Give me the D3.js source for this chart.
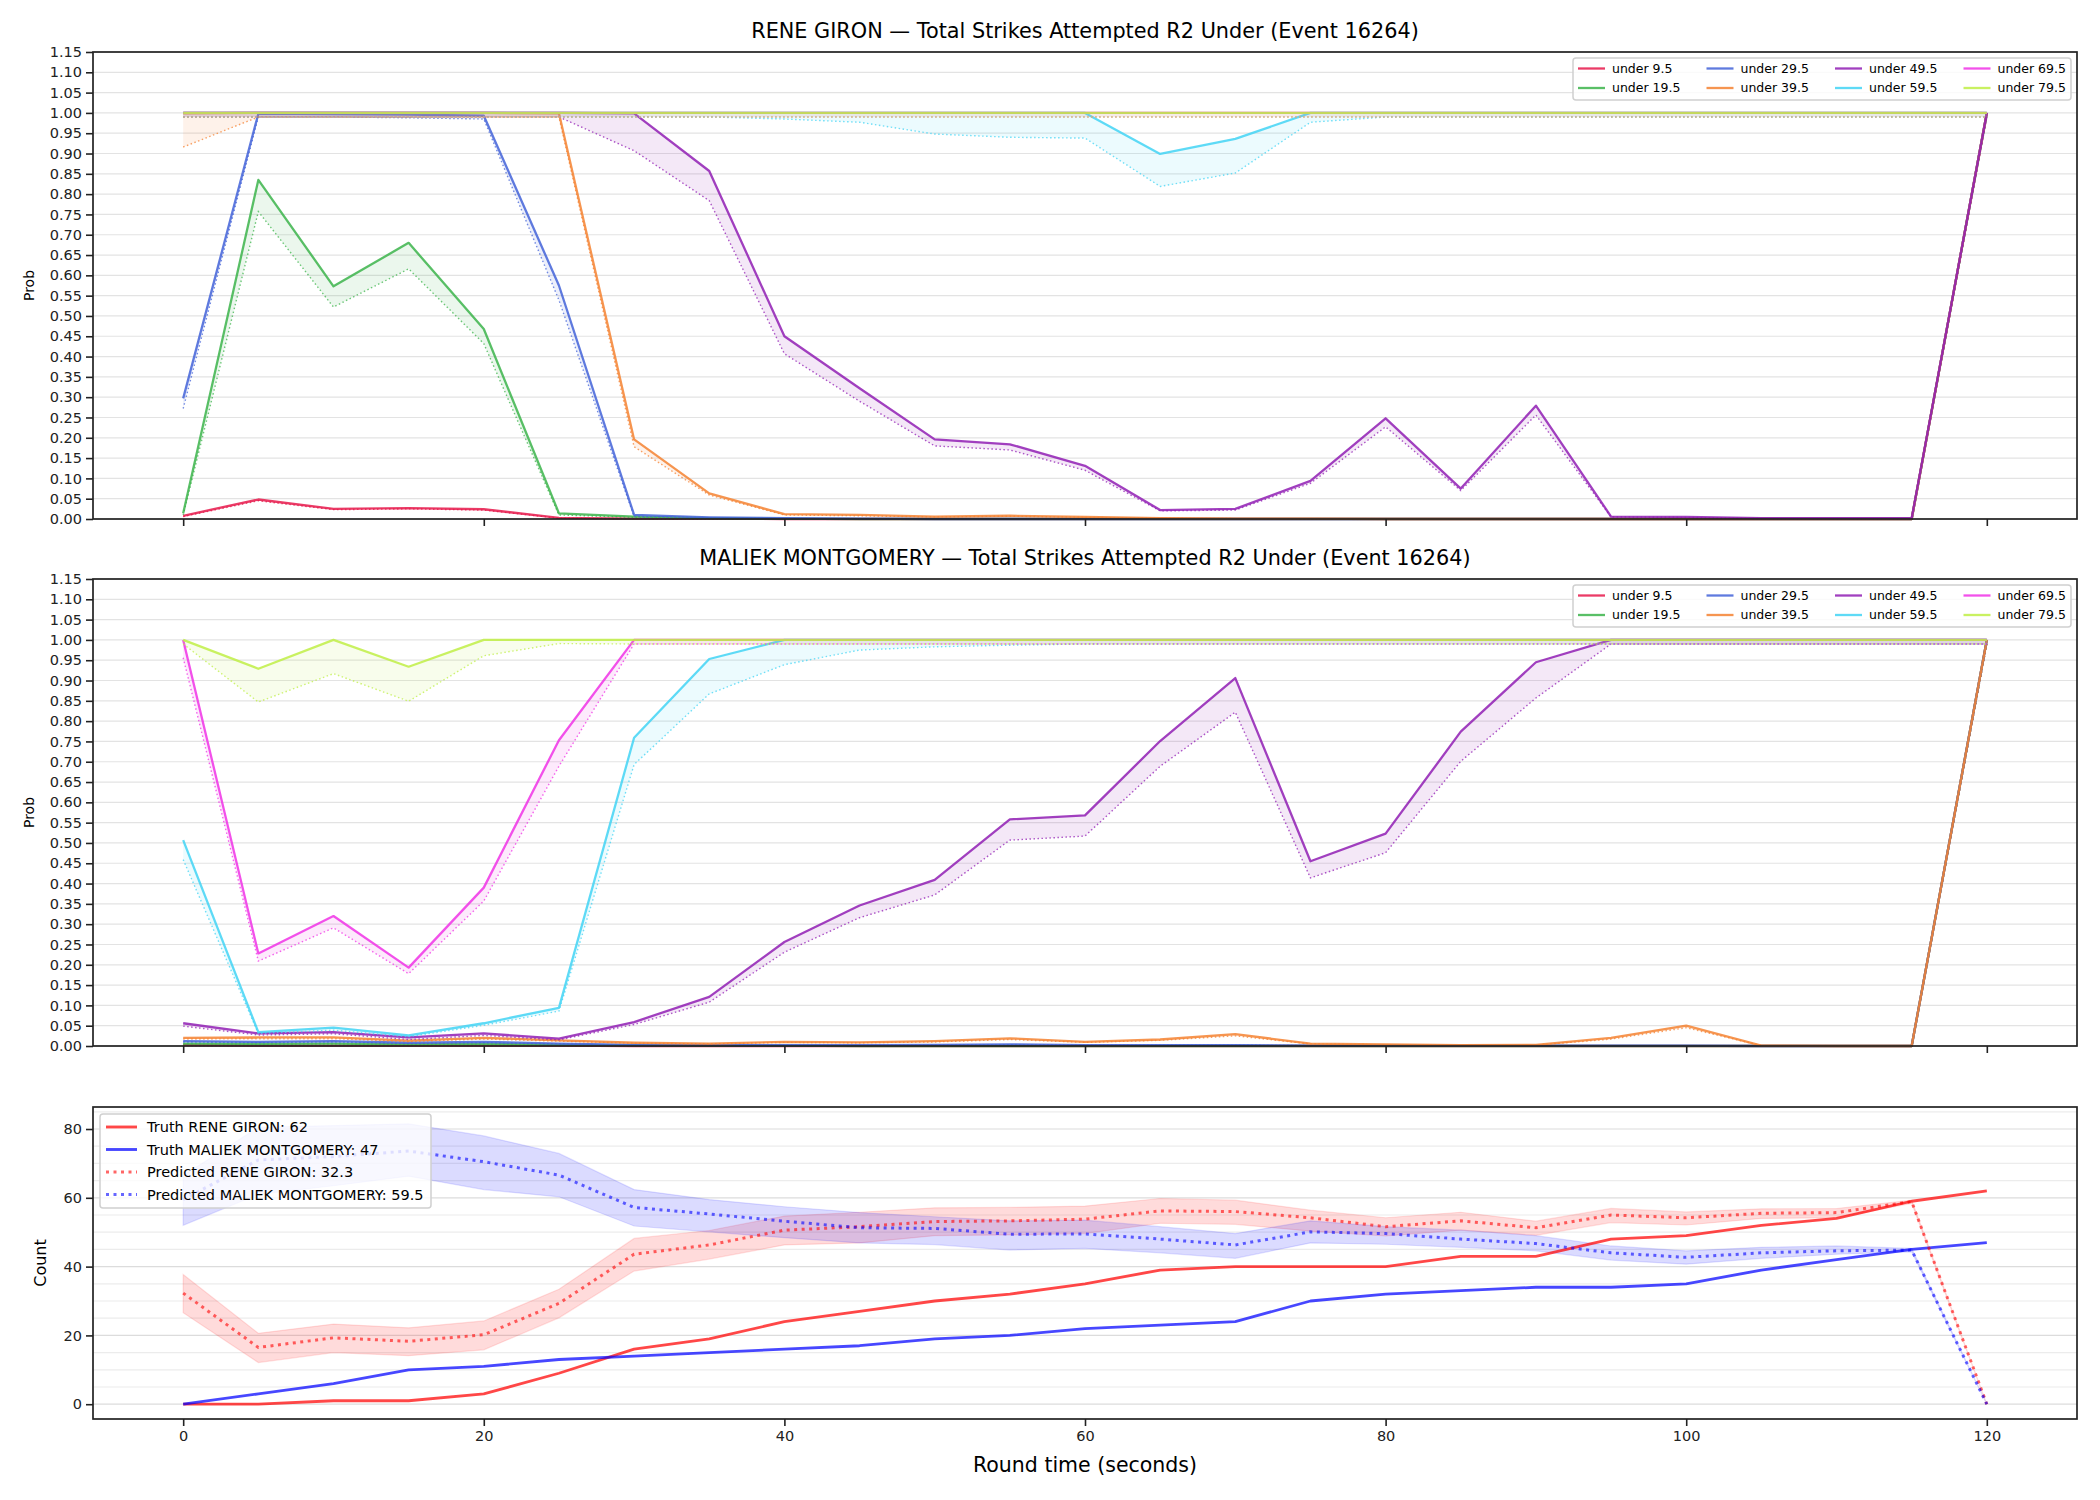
<!DOCTYPE html>
<html>
<head>
<meta charset="utf-8">
<script src="https://cdn.jsdelivr.net/npm/d3@7"></script>
<style>
  body { margin: 0; background: #fff; }
  text { font-family: "DejaVu Sans", sans-serif; }
</style>
</head>
<body>
<svg id="chart" width="2100" height="1500"></svg>
<script>
// ---- data ----
const times = [0,5,10,15,20,25,30,35,40,45,50,55,60,65,70,75,80,85,90,95,100,105,110,115,120];
const thresholds = ["under 9.5","under 19.5","under 29.5","under 39.5","under 49.5","under 59.5","under 69.5","under 79.5"];
const lineColors = ["#e6194b","#3cb44b","#4363d8","#f58231","#911eb4","#42d4f4","#f032e6","#bfef45"];

const probTicks = [0,0.05,0.1,0.15,0.2,0.25,0.3,0.35,0.4,0.45,0.5,0.55,0.6,0.65,0.7,0.75,0.8,0.85,0.9,0.95,1,1.05,1.1,1.15];
const timeTicks = [0,20,40,60,80,100,120];
const countTicks = [0,20,40,60,80];
const countGrid = [0,5,10,15,20,25,30,35,40,45,50,55,60,65,70,75,80,85];

// RENE GIRON: probability per line (solid) and lower estimate (dotted)
const gironProb = [
  [0.008,0.048,0.025,0.027,0.024,0.003,0.001,0.001,0,0,0,0,0,0,0,0,0,0,0,0,0,0,0,0,1],
  [0.014,0.835,0.573,0.680,0.468,0.014,0.006,0.002,0.001,0,0,0,0,0,0,0,0,0,0,0,0,0,0,0,1],
  [0.297,0.998,0.997,0.996,0.993,0.575,0.010,0.004,0.002,0.001,0,0,0,0,0,0,0,0,0,0,0,0,0,0,1],
  [0.999,1,1,1,1,0.999,0.196,0.063,0.012,0.010,0.006,0.008,0.005,0.002,0.001,0.001,0,0,0,0,0,0,0,0,1],
  [1,1,1,1,1,1,0.999,0.857,0.450,0.322,0.196,0.184,0.131,0.022,0.025,0.094,0.248,0.075,0.279,0.006,0.005,0.002,0.002,0.002,1],
  [1,1,1,1,1,1,1,1,1,1,1,1,1,0.899,0.936,1,1,1,1,1,1,1,1,1,1],
  [1,1,1,1,1,1,1,1,1,1,1,1,1,1,1,1,1,1,1,1,1,1,1,1,1],
  [1,1,1,1,1,1,1,1,1,1,1,1,1,1,1,1,1,1,1,1,1,1,1,1,1]
];
const gironLow = [
  [0.006,0.045,0.023,0.025,0.022,0.002,0.001,0,0,0,0,0,0,0,0,0,0,0,0,0,0,0,0,0,0.99],
  [0.010,0.757,0.522,0.616,0.432,0.010,0.004,0.001,0,0,0,0,0,0,0,0,0,0,0,0,0,0,0,0,0.99],
  [0.272,0.990,0.990,0.988,0.985,0.539,0.006,0.003,0.001,0,0,0,0,0,0,0,0,0,0,0,0,0,0,0,0.99],
  [0.916,0.990,0.990,0.990,0.990,0.990,0.178,0.059,0.010,0.008,0.005,0.007,0.004,0.002,0.001,0,0,0,0,0,0,0,0,0,0.99],
  [0.99,0.99,0.99,0.99,0.99,0.99,0.907,0.784,0.407,0.290,0.180,0.170,0.120,0.020,0.022,0.088,0.227,0.070,0.256,0.005,0.004,0.001,0.001,0.001,0.99],
  [0.99,0.99,0.99,0.99,0.99,0.99,0.99,0.99,0.985,0.977,0.948,0.940,0.938,0.819,0.852,0.977,0.99,0.99,0.99,0.99,0.99,0.99,0.99,0.99,0.99],
  [0.99,0.99,0.99,0.99,0.99,0.99,0.99,0.99,0.99,0.99,0.99,0.99,0.99,0.99,0.99,0.99,0.99,0.99,0.99,0.99,0.99,0.99,0.99,0.99,0.99],
  [0.99,0.99,0.99,0.99,0.99,0.99,0.99,0.99,0.99,0.99,0.99,0.99,0.99,0.99,0.99,0.99,0.99,0.99,0.99,0.99,0.99,0.99,0.99,0.99,0.99]
];

// MALIEK MONTGOMERY
const maliekProb = [
  [0.002,0.001,0.001,0.001,0.001,0.001,0,0,0,0,0,0,0,0,0,0,0,0,0,0,0,0,0,0,1],
  [0.006,0.005,0.006,0.004,0.005,0.003,0.002,0.001,0.001,0,0,0,0,0,0,0,0,0,0,0,0,0,0,0,1],
  [0.012,0.010,0.012,0.008,0.010,0.006,0.003,0.002,0.002,0.002,0.003,0.004,0.002,0.002,0.002,0.001,0.001,0.001,0.001,0.001,0.001,0,0,0,1],
  [0.020,0.021,0.021,0.013,0.020,0.014,0.008,0.006,0.010,0.009,0.012,0.019,0.010,0.016,0.029,0.006,0.004,0.002,0.003,0.020,0.050,0.001,0,0,1],
  [0.056,0.031,0.034,0.021,0.031,0.018,0.059,0.121,0.256,0.346,0.409,0.558,0.568,0.751,0.906,0.455,0.523,0.774,0.945,1,1,1,1,1,1],
  [0.507,0.034,0.045,0.026,0.056,0.094,0.759,0.953,1,1,1,1,1,1,1,1,1,1,1,1,1,1,1,1,1],
  [1,0.228,0.320,0.193,0.390,0.753,1,1,1,1,1,1,1,1,1,1,1,1,1,1,1,1,1,1,1],
  [1,0.929,1,0.934,1,1,1,1,1,1,1,1,1,1,1,1,1,1,1,1,1,1,1,1,1]
];
const maliekLow = [
  [0.001,0.001,0.001,0.001,0.001,0.001,0,0,0,0,0,0,0,0,0,0,0,0,0,0,0,0,0,0,0.99],
  [0.005,0.004,0.005,0.003,0.004,0.002,0.001,0.001,0.001,0,0,0,0,0,0,0,0,0,0,0,0,0,0,0,0.99],
  [0.010,0.008,0.010,0.006,0.008,0.005,0.002,0.002,0.002,0.002,0.002,0.003,0.002,0.002,0.002,0.001,0.001,0.001,0.001,0.001,0.001,0,0,0,0.99],
  [0.017,0.018,0.018,0.011,0.017,0.012,0.007,0.005,0.009,0.008,0.010,0.016,0.009,0.014,0.025,0.005,0.003,0.002,0.002,0.017,0.045,0.001,0,0,0.99],
  [0.049,0.027,0.030,0.016,0.026,0.015,0.053,0.108,0.231,0.316,0.372,0.507,0.517,0.689,0.822,0.414,0.476,0.701,0.857,0.99,0.99,0.99,0.99,0.99,0.99],
  [0.459,0.031,0.039,0.023,0.051,0.086,0.693,0.867,0.939,0.975,0.983,0.987,0.99,0.99,0.99,0.99,0.99,0.99,0.99,0.99,0.99,0.99,0.99,0.99,0.99],
  [0.956,0.209,0.291,0.178,0.357,0.689,0.99,0.99,0.99,0.99,0.99,0.99,0.99,0.99,0.99,0.99,0.99,0.99,0.99,0.99,0.99,0.99,0.99,0.99,0.99],
  [0.99,0.847,0.917,0.849,0.961,0.991,0.99,0.99,0.99,0.99,0.99,0.99,0.99,0.99,0.99,0.99,0.99,0.99,0.99,0.99,0.99,0.99,0.99,0.99,0.99]
];

// strike counts
const truthGiron  = [0,0,1,1,3,9,16,19,24,27,30,32,35,39,40,40,40,43,43,48,49,52,54,59,62];
const truthMaliek = [0,3,6,10,11,13,14,15,16,17,19,20,22,23,24,30,32,33,34,34,35,39,42,45,47];
const predGiron   = [32.3,16.5,19.3,18.3,20.2,29.3,43.6,46.3,50.6,51.6,53.1,53.3,53.8,56.2,56.0,54.2,51.6,53.3,51.3,55.0,54.2,55.5,55.7,58.9,0];
const predGironHi = [37.7,20.6,23.3,22.2,24.2,33.4,48.2,50.5,54.7,55.8,57.1,57.2,57.6,59.8,59.3,56.4,54.2,55.8,53.2,56.9,55.9,56.8,56.9,59.3,0];
const predGironLo = [26.6,12.1,15.0,14.1,15.8,25.1,38.7,42.2,46.3,46.9,49.0,49.2,49.6,52.6,52.3,50.3,48.9,50.6,49.1,52.8,52.1,54.0,54.2,58.4,0];
const predMaliek   = [59.5,71.0,72.0,73.6,70.5,66.6,57.2,55.3,53.2,51.3,51.1,49.4,49.5,48.0,46.3,50.1,49.6,48.0,46.7,44.0,42.7,44.0,44.6,44.8,0];
const predMaliekHi = [66.5,80.5,81.0,81.5,78.0,72.9,62.4,59.5,57.4,55.7,54.5,53.3,53.5,51.6,49.6,53.3,51.6,50.6,49.0,46.0,44.6,45.6,46.0,45.3,0];
const predMaliekLo = [52.0,61.0,63.5,66.3,62.4,60.3,51.8,50.1,48.4,46.9,46.4,44.8,45.3,44.0,42.4,46.9,46.5,45.6,44.6,41.9,40.7,42.4,43.6,44.3,0];

// ---- layout ----
const svg = d3.select("#chart");
svg.append("rect").attr("width", 2100).attr("height", 1500).attr("fill", "#fff");

const left = 93, right = 2077;
const probH = 467;
const x = d3.scaleLinear().domain([-6, 126]).range([left, right]);

function frame(g, top, h) {
    g.append("rect")
        .attr("x", left).attr("y", top)
        .attr("width", right - left).attr("height", h)
        .attr("fill", "none").attr("stroke", "#222").attr("stroke-width", 1.7);
}

function styleAxis(sel) {
    sel.select(".domain").remove();
    sel.selectAll(".tick line").attr("stroke", "#222").attr("stroke-width", 1.6);
    sel.selectAll(".tick text").attr("fill", "#222")
        .style("font-family", "DejaVu Sans").style("font-size", "14.5px");
}

function drawProbPanel(top, title, probs, lows) {
    const y = d3.scaleLinear().domain([0, 1.15]).range([top + probH, top]);
    const g = svg.append("g");

    // grid lines
    g.selectAll(".grid").data(probTicks).enter().append("line")
        .attr("x1", left).attr("x2", right)
        .attr("y1", d => y(d)).attr("y2", d => y(d))
        .attr("stroke", "#e3e3e3").attr("stroke-width", 1.2);

    // one band + dotted + solid line per threshold
    thresholds.forEach((name, i) => {
        const pts = times.map((t, j) => ({ t: t, p: probs[i][j], lo: lows[i][j] }));
        g.append("path").datum(pts)
            .attr("d", d3.area().x(d => x(d.t)).y0(d => y(d.lo)).y1(d => y(d.p)))
            .attr("fill", lineColors[i]).attr("fill-opacity", 0.1);
        g.append("path").datum(pts)
            .attr("d", d3.line().x(d => x(d.t)).y(d => y(d.lo)))
            .attr("fill", "none").attr("stroke", lineColors[i])
            .attr("stroke-opacity", 0.75).attr("stroke-width", 1.4)
            .attr("stroke-dasharray", "1.5,2.5");
        g.append("path").datum(pts)
            .attr("d", d3.line().x(d => x(d.t)).y(d => y(d.p)))
            .attr("fill", "none").attr("stroke", lineColors[i])
            .attr("stroke-opacity", 0.85).attr("stroke-width", 2.3)
            .attr("stroke-linejoin", "round");
    });

    g.append("g").attr("transform", `translate(${left},0)`)
        .call(d3.axisLeft(y).tickValues(probTicks).tickFormat(d3.format(".2f")).tickSize(7).tickPadding(4))
        .call(styleAxis);
    g.append("g").attr("transform", `translate(0,${top + probH})`)
        .call(d3.axisBottom(x).tickValues(timeTicks).tickFormat("").tickSize(7))
        .call(styleAxis);
    frame(g, top, probH);

    g.append("text").attr("x", (left + right) / 2).attr("y", top - 14)
        .attr("text-anchor", "middle").style("font-size", "20.8px").attr("fill", "#000")
        .text(title);
    g.append("text")
        .attr("transform", `translate(34,${top + probH / 2}) rotate(-90)`)
        .attr("text-anchor", "middle").style("font-size", "14px").attr("fill", "#000")
        .text("Prob");

    // legend, 4 columns x 2 rows
    const lg = g.append("g");
    lg.append("rect").attr("x", 1573).attr("y", top + 6).attr("width", 498).attr("height", 42)
        .attr("rx", 3).attr("fill", "#fff").attr("fill-opacity", 0.8)
        .attr("stroke", "#d0d0d0").attr("stroke-width", 1.5);
    thresholds.forEach((name, i) => {
        const col = Math.floor(i / 2), row = i % 2;
        const lx = 1578 + col * 128.5, ly = top + 16.5 + row * 19.5;
        lg.append("line").attr("x1", lx).attr("x2", lx + 27).attr("y1", ly).attr("y2", ly)
            .attr("stroke", lineColors[i]).attr("stroke-opacity", 0.85).attr("stroke-width", 2.3);
        lg.append("text").attr("x", lx + 34).attr("y", ly).attr("dy", "0.35em")
            .style("font-size", "12.5px").attr("fill", "#000").text(name);
    });
}

drawProbPanel(52, "RENE GIRON \u2014 Total Strikes Attempted R2 Under (Event 16264)", gironProb, gironLow);
drawProbPanel(579, "MALIEK MONTGOMERY \u2014 Total Strikes Attempted R2 Under (Event 16264)", maliekProb, maliekLow);

// ---- count panel ----
const cTop = 1107, cH = 312;
const yc = d3.scaleLinear().domain([-4.3, 86.4]).range([cTop + cH, cTop]);
const gc = svg.append("g");

gc.selectAll(".cgrid").data(countGrid).enter().append("line")
    .attr("x1", left).attr("x2", right)
    .attr("y1", d => yc(d)).attr("y2", d => yc(d))
    .attr("stroke", d => d % 20 === 0 ? "#dcdcdc" : "#ececec").attr("stroke-width", 1.2);

const bands = [
    { mid: predGiron, hi: predGironHi, lo: predGironLo, color: "#ff0000", label: "Predicted RENE GIRON: 32.3" },
    { mid: predMaliek, hi: predMaliekHi, lo: predMaliekLo, color: "#0000ff", label: "Predicted MALIEK MONTGOMERY: 59.5" }
];
const truths = [
    { vals: truthGiron, color: "#ff0000", label: "Truth RENE GIRON: 62" },
    { vals: truthMaliek, color: "#0000ff", label: "Truth MALIEK MONTGOMERY: 47" }
];

bands.forEach(b => {
    const pts = times.map((t, j) => ({ t: t, m: b.mid[j], hi: b.hi[j], lo: b.lo[j] }));
    gc.append("path").datum(pts)
        .attr("d", d3.area().x(d => x(d.t)).y0(d => yc(d.lo)).y1(d => yc(d.hi)))
        .attr("fill", b.color).attr("fill-opacity", 0.14)
        .attr("stroke", b.color).attr("stroke-opacity", 0.12).attr("stroke-width", 1.2);
});
truths.forEach(s => {
    gc.append("path").datum(times.map((t, j) => [t, s.vals[j]]))
        .attr("d", d3.line().x(d => x(d[0])).y(d => yc(d[1])))
        .attr("fill", "none").attr("stroke", s.color).attr("stroke-opacity", 0.72)
        .attr("stroke-width", 2.8).attr("stroke-linejoin", "round");
});
bands.forEach(b => {
    gc.append("path").datum(times.map((t, j) => [t, b.mid[j]]))
        .attr("d", d3.line().x(d => x(d[0])).y(d => yc(d[1])))
        .attr("fill", "none").attr("stroke", b.color).attr("stroke-opacity", 0.6)
        .attr("stroke-width", 3).attr("stroke-dasharray", "3,4.5");
});

gc.append("g").attr("transform", `translate(${left},0)`)
    .call(d3.axisLeft(yc).tickValues(countTicks).tickSize(7).tickPadding(4))
    .call(styleAxis);
gc.append("g").attr("transform", `translate(0,${cTop + cH})`)
    .call(d3.axisBottom(x).tickValues(timeTicks).tickSize(7).tickPadding(5))
    .call(styleAxis);
frame(gc, cTop, cH);

gc.append("text")
    .attr("transform", `translate(46,${cTop + cH / 2}) rotate(-90)`)
    .attr("text-anchor", "middle").style("font-size", "16px").attr("fill", "#000")
    .text("Count");
gc.append("text").attr("x", (left + right) / 2).attr("y", 1472)
    .attr("text-anchor", "middle").style("font-size", "20.5px").attr("fill", "#000")
    .text("Round time (seconds)");

// legend
const lgc = gc.append("g");
lgc.append("rect").attr("x", 100).attr("y", 1114).attr("width", 331).attr("height", 94)
    .attr("rx", 3).attr("fill", "#fff").attr("fill-opacity", 0.8)
    .attr("stroke", "#d0d0d0").attr("stroke-width", 1.5);
const legendItems = [
    { color: "#ff0000", dash: null, op: 0.72, label: truths[0].label },
    { color: "#0000ff", dash: null, op: 0.72, label: truths[1].label },
    { color: "#ff0000", dash: "3,4.5", op: 0.6, label: bands[0].label },
    { color: "#0000ff", dash: "3,4.5", op: 0.6, label: bands[1].label }
];
legendItems.forEach((it, i) => {
    const ly = 1127 + i * 22.5;
    lgc.append("line").attr("x1", 106).attr("x2", 137).attr("y1", ly).attr("y2", ly)
        .attr("stroke", it.color).attr("stroke-opacity", it.op).attr("stroke-width", 2.9)
        .attr("stroke-dasharray", it.dash);
    lgc.append("text").attr("x", 147).attr("y", ly).attr("dy", "0.35em")
        .style("font-size", "14.5px").attr("fill", "#000").text(it.label);
});
</script>
</body>
</html>
